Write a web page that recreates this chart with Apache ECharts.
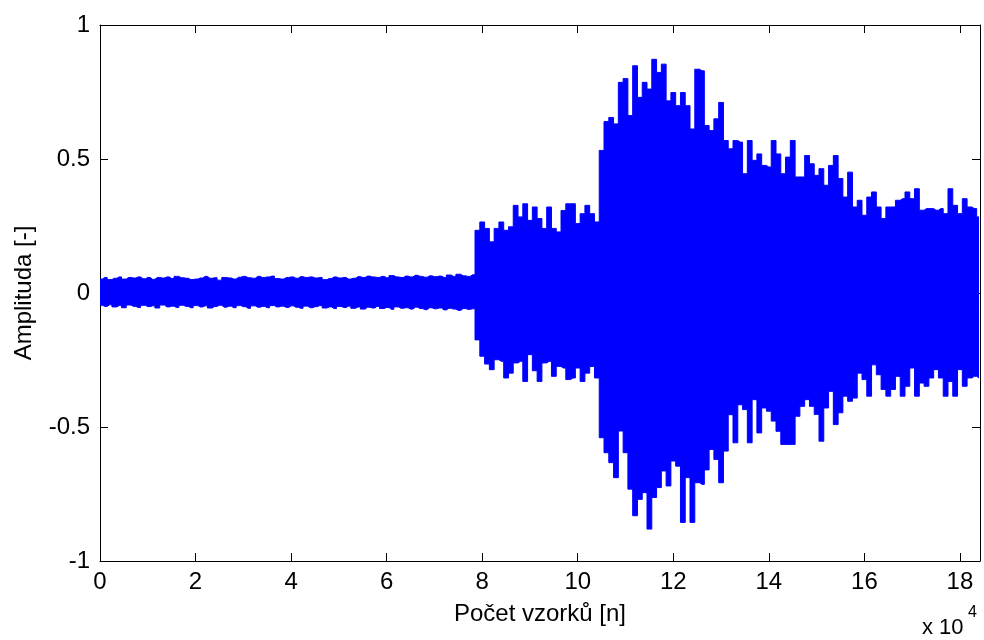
<!DOCTYPE html>
<html>
<head>
<meta charset="utf-8">
<script src="https://cdn.jsdelivr.net/npm/echarts@6/dist/echarts.min.js"></script>
<style>
    html, body { margin: 0; padding: 0; background: #fff; }
    #chart { width: 984px; height: 640px; }
</style>
</head>
<body>
<div id="chart"></div>
<script>
    // envelope of the signal, one value every STEP samples
    const STEP = 1000
    const upperEnv = [
        0.052, 0.058, 0.050, 0.055, 0.060, 0.052, 0.058, 0.056, 0.060, 0.053,
        0.058, 0.051, 0.058, 0.056, 0.060, 0.054, 0.062, 0.057, 0.055, 0.050,
        0.052, 0.056, 0.062, 0.055, 0.057, 0.048, 0.058, 0.056, 0.052, 0.059,
        0.062, 0.057, 0.055, 0.062, 0.058, 0.060, 0.063, 0.054, 0.052, 0.058,
        0.060, 0.055, 0.061, 0.058, 0.060, 0.056, 0.058, 0.050, 0.054, 0.060,
        0.056, 0.058, 0.052, 0.055, 0.061, 0.058, 0.063, 0.060, 0.058, 0.062,
        0.057, 0.065, 0.060, 0.058, 0.063, 0.060, 0.066, 0.062, 0.059, 0.064,
        0.061, 0.063, 0.058, 0.067, 0.062, 0.070, 0.064, 0.062, 0.068,
        0.234, 0.265, 0.241, 0.191, 0.241, 0.265, 0.234, 0.247, 0.327, 0.284, 0.333,
        0.271, 0.321, 0.278, 0.241, 0.321, 0.241, 0.228, 0.308, 0.333, 0.333,
        0.259, 0.296, 0.327, 0.296, 0.265,
        0.532, 0.640, 0.655, 0.631, 0.786,
        0.800, 0.662, 0.848, 0.730, 0.786, 0.761, 0.872, 0.823, 0.854, 0.717,
        0.748, 0.699, 0.748, 0.699, 0.612, 0.835, 0.829, 0.625, 0.606, 0.650,
        0.711, 0.569, 0.538, 0.569, 0.563, 0.445, 0.569, 0.495, 0.519, 0.476,
        0.470, 0.569, 0.519, 0.445, 0.507, 0.569, 0.433, 0.433, 0.513, 0.482,
        0.439, 0.464, 0.402, 0.476, 0.513, 0.427, 0.358, 0.451, 0.321, 0.346,
        0.290, 0.358, 0.377, 0.321, 0.278, 0.321, 0.321, 0.346, 0.352, 0.377,
        0.352, 0.389, 0.309, 0.315, 0.315, 0.309, 0.315, 0.296, 0.389, 0.327,
        0.296, 0.352, 0.321, 0.315, 0.284
    ]
    const lowerEnv = [
        -0.046, -0.050, -0.044, -0.052, -0.047, -0.055, -0.045, -0.050, -0.054, -0.046,
        -0.051, -0.048, -0.056, -0.045, -0.052, -0.049, -0.054, -0.046, -0.050, -0.055,
        -0.047, -0.052, -0.048, -0.056, -0.050, -0.046, -0.053, -0.049, -0.055, -0.047,
        -0.051, -0.057, -0.048, -0.053, -0.050, -0.055, -0.047, -0.052, -0.049, -0.054,
        -0.048, -0.053, -0.057, -0.049, -0.055, -0.051, -0.047, -0.056, -0.052, -0.058,
        -0.050, -0.054, -0.049, -0.057, -0.052, -0.060, -0.053, -0.056, -0.050, -0.058,
        -0.054, -0.061, -0.052, -0.057, -0.055, -0.060, -0.053, -0.058, -0.062, -0.055,
        -0.059, -0.056, -0.063, -0.057, -0.060, -0.065, -0.058, -0.061, -0.059,
        -0.175, -0.236, -0.265, -0.286, -0.249, -0.255, -0.317, -0.299, -0.261, -0.255, -0.330,
        -0.230, -0.290, -0.330, -0.261, -0.255, -0.311, -0.274, -0.280, -0.323, -0.317,
        -0.280, -0.330, -0.299, -0.274, -0.317,
        -0.540, -0.596, -0.633, -0.689, -0.515,
        -0.596, -0.732, -0.831, -0.770, -0.745, -0.881, -0.763, -0.726, -0.664, -0.720,
        -0.627, -0.646, -0.856, -0.689, -0.856, -0.708, -0.714, -0.660, -0.584, -0.621,
        -0.708, -0.590, -0.454, -0.559, -0.417, -0.435, -0.559, -0.398, -0.522, -0.429,
        -0.441, -0.478, -0.516, -0.565, -0.565, -0.565, -0.460, -0.423, -0.398, -0.423,
        -0.453, -0.553, -0.429, -0.367, -0.491, -0.447, -0.385, -0.404, -0.392, -0.299,
        -0.323, -0.385, -0.268, -0.305, -0.360, -0.385, -0.360, -0.311, -0.385, -0.348,
        -0.280, -0.385, -0.336, -0.348, -0.317, -0.286, -0.317, -0.385, -0.330, -0.385,
        -0.286, -0.348, -0.317, -0.311, -0.317
    ]
    const xMax = 184200
    const xTickStep = 20000
    const yTickStep = 0.5

    const FONT = 'Liberation Sans'
    const BLUE = '#0000ff'

    const upperData = upperEnv.map((v, i) => [i * STEP, v])
    const lowerData = lowerEnv.map((v, i) => [i * STEP, v])

    // matlab style box: ticks inside on all four sides
    const tickStyle = { inside: true, length: 8, lineStyle: { color: '#000', width: 1 } }
    const lineStyle = { show: true, onZero: false, lineStyle: { color: '#000', width: 1 } }

    const chartInstance = echarts.init(document.getElementById('chart'), null, { renderer: 'canvas' })

    const option = {
        animation: false,
        backgroundColor: '#fff',
        textStyle: { fontFamily: FONT },
        grid: { left: 100, right: 4, top: 25, bottom: 79 },
        xAxis: [
            {
                type: 'value',
                min: 0,
                max: xMax,
                interval: xTickStep,
                axisLine: lineStyle,
                axisTick: tickStyle,
                splitLine: { show: false },
                axisLabel: {
                    color: '#000',
                    fontSize: 24,
                    margin: 9,
                    showMaxLabel: false,
                    formatter: (val) => val % xTickStep === 0 ? String(val / 10000) : ''
                },
                name: 'Počet vzorků [n]',
                nameLocation: 'middle',
                nameGap: 41,
                nameTextStyle: { color: '#000', fontSize: 24, fontFamily: FONT }
            },
            {
                type: 'value',
                position: 'top',
                min: 0,
                max: xMax,
                interval: xTickStep,
                axisLine: lineStyle,
                axisTick: tickStyle,
                axisLabel: { show: false },
                splitLine: { show: false }
            }
        ],
        yAxis: [
            {
                type: 'value',
                min: -1,
                max: 1,
                interval: yTickStep,
                axisLine: lineStyle,
                axisTick: tickStyle,
                splitLine: { show: false },
                axisLabel: { color: '#000', fontSize: 24, margin: 10 },
                name: 'Amplituda [-]',
                nameLocation: 'middle',
                nameGap: 64,
                nameTextStyle: { color: '#000', fontSize: 24, fontFamily: FONT }
            },
            {
                type: 'value',
                position: 'right',
                min: -1,
                max: 1,
                interval: yTickStep,
                axisLine: lineStyle,
                axisTick: tickStyle,
                axisLabel: { show: false },
                splitLine: { show: false }
            }
        ],
        series: [
            {
                type: 'line',
                step: 'middle',
                symbol: 'none',
                data: upperData,
                lineStyle: { color: BLUE, width: 1 },
                areaStyle: { color: BLUE, opacity: 1 }
            },
            {
                type: 'line',
                step: 'middle',
                symbol: 'none',
                data: lowerData,
                lineStyle: { color: BLUE, width: 1 },
                areaStyle: { color: BLUE, opacity: 1 }
            }
        ],
        graphic: [
            {
                type: 'text',
                left: 922,
                top: 617,
                style: { text: 'x 10', font: '22px ' + FONT, fill: '#000' }
            },
            {
                type: 'text',
                left: 968,
                top: 605,
                style: { text: '4', font: '16px ' + FONT, fill: '#000' }
            }
        ]
    }

    chartInstance.setOption(option)
</script>
</body>
</html>
